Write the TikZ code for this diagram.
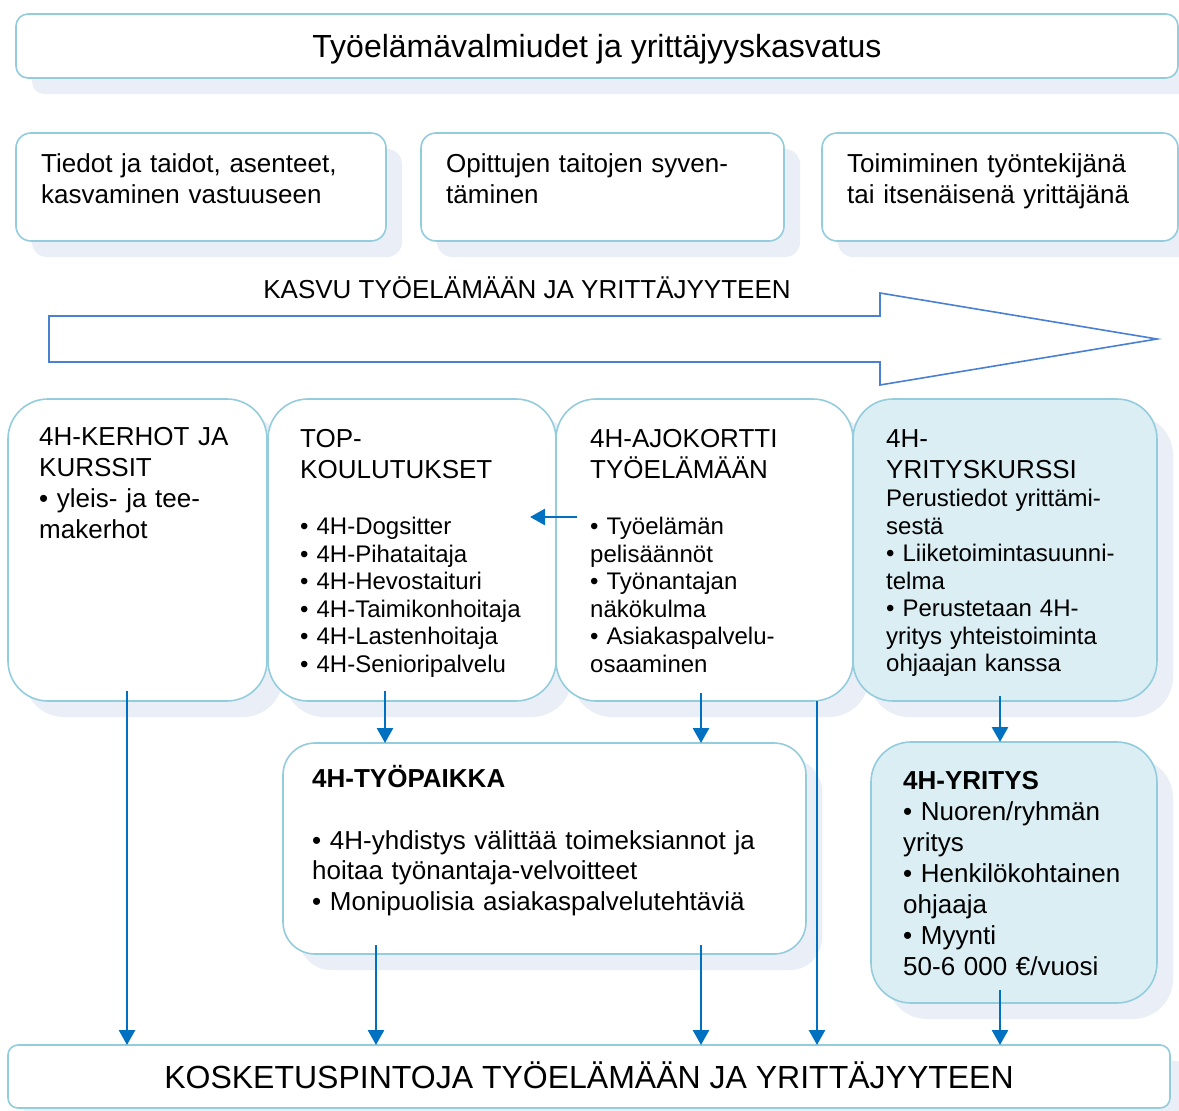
\documentclass[tikz,border=0pt]{standalone}
\usepackage{fontspec}
\setmainfont{Liberation Sans}
\usetikzlibrary{arrows.meta,calc}
\definecolor{bordc}{HTML}{93CDDD}
\definecolor{shadc}{HTML}{EAEFF7}
\definecolor{fillc}{HTML}{DAEEF3}
\definecolor{connc}{HTML}{0070C0}
\definecolor{bigc}{HTML}{4A80D2}
\tikzset{
  boxst/.style={draw=bordc, line width=1.6pt, inner sep=0pt, outer sep=0pt},
  conn/.style={connc, line width=2.6pt, -{Triangle[width=16pt,length=15pt]}},
  txa/.style={font=\fontsize{26}{31}\selectfont, inner sep=0pt, anchor=base west, align=left, text width=520pt},
  txb/.style={font=\fontsize{24}{27.5}\selectfont, inner sep=0pt, anchor=base west, align=left, text width=520pt},
  txc/.style={font=\fontsize{26}{30.5}\selectfont, inner sep=0pt, anchor=base west, align=left, text width=520pt},
  big/.style={font=\fontsize{32}{38}\selectfont, inner sep=0pt, anchor=base},
}
\newcommand\mkbox[7]{%
  \fill[shadc, rounded corners=#6] (#2+16,#3+16) rectangle (#4+16,#5+16);
  \node[boxst, rounded corners=#6, fill=#7, minimum width={(#4-#2)*1pt}, minimum height={(#5-#3)*1pt}, anchor=north west] (#1) at (#2,#3) {};
}
\begin{document}
\begin{tikzpicture}[x=1pt,y=-1pt]
\clip (0,0) rectangle (1179,1111);
\fill[white] (0,0) rectangle (1179,1111);

% boxes
\mkbox{titlebox}{16}{14}{1178}{78}{12pt}{white}
\mkbox{ra}{16}{133}{386}{241}{15pt}{white}
\mkbox{rb}{421}{133}{784}{241}{15pt}{white}
\mkbox{rc}{822}{133}{1178}{241}{15pt}{white}
\mkbox{kerhot}{8}{399}{267}{701}{40pt}{white}
\mkbox{topk}{268}{399}{556}{701}{40pt}{white}
\mkbox{ajok}{556}{399}{853}{701}{40pt}{white}
\mkbox{kurssi}{853}{399}{1157}{701}{40pt}{fillc}
\mkbox{tyopaikka}{283}{743}{806}{954}{32pt}{white}
\mkbox{yritys}{871}{742}{1157}{1003}{40pt}{fillc}
\mkbox{bottom}{8}{1045}{1170}{1108}{10pt}{white}

% big arrow
\draw[bigc, line width=1.6pt, line join=miter] (49,316) -- (880,316) -- (880,293) -- (1157,339) -- (880,385) -- (880,362) -- (49,362) -- cycle;

% texts
\node[big] (ttitle) at (597,57.5) {Työelämävalmiudet ja yrittäjyyskasvatus};
\node[txa] (tra) at (41,172) {Tiedot ja taidot, asenteet,\\kasvaminen vastuuseen};
\node[txa] (trb) at (446,172) {Opittujen taitojen syven-\\täminen};
\node[txa] (trc) at (847,172) {Toimiminen työntekijänä\\tai itsenäisenä yrittäjänä};
\node[font=\fontsize{26}{31}\selectfont, inner sep=0pt, anchor=base] (tkasvu) at (527,298) {KASVU TYÖELÄMÄÄN JA YRITTÄJYYTEEN};

\node[txa] (tkerhot) at (39,445) {4H-KERHOT JA\\KURSSIT\\• yleis- ja tee-\\makerhot};
\node[txa] (ttoph) at (300,447) {TOP-\\KOULUTUKSET};
\node[txb] (ttopb) at (300,534.5) {• 4H-Dogsitter\\• 4H-Pihataitaja\\• 4H-Hevostaituri\\• 4H-Taimikonhoitaja\\• 4H-Lastenhoitaja\\• 4H-Senioripalvelu};
\node[txa] (tajoh) at (590,447) {4H-AJOKORTTI\\TYÖELÄMÄÄN};
\node[txb] (tajob) at (590,534.5) {• Työelämän\\pelisäännöt\\• Työnantajan\\näkökulma\\• Asiakaspalvelu-\\osaaminen};
\node[txa] (tkurh) at (886,447) {4H-\\YRITYSKURSSI};
\node[txb] (tkurb) at (886,506.5) {Perustiedot yrittämi-\\sestä\\• Liiketoimintasuunni-\\telma\\• Perustetaan 4H-\\yritys yhteistoiminta\\ohjaajan kanssa};
\node[txa, font=\fontsize{26}{31}\selectfont\bfseries] (ttyoh) at (312,787) {4H-TYÖPAIKKA};
\node[txc] (ttyob) at (312,849) {• 4H-yhdistys välittää toimeksiannot ja\\hoitaa työnantaja-velvoitteet\\• Monipuolisia asiakaspalvelutehtäviä};
\node[txa] (tyrit) at (903,789) {\textbf{4H-YRITYS}\\• Nuoren/ryhmän\\yritys\\• Henkilökohtainen\\ohjaaja\\• Myynti\\50-6 000 €/vuosi};
\node[big] (tbottom) at (589,1088.5) {KOSKETUSPINTOJA TYÖELÄMÄÄN JA YRITTÄJYYTEEN};

% connectors
\draw[conn] ($(127,0 |- kerhot.south)+(0,-10)$) -- (127,0 |- bottom.north);
\draw[conn] ($(385,0 |- topk.south)+(0,-10)$) -- (385,0 |- tyopaikka.north);
\draw[conn] ($(701,0 |- ajok.south)+(0,-8)$) -- (701,0 |- tyopaikka.north);
\draw[conn] (817,0 |- ajok.south) -- (817,0 |- bottom.north);
\draw[conn] ($(1000,0 |- kurssi.south)+(0,-5)$) -- (1000,0 |- yritys.north);
\draw[conn] ($(376,0 |- tyopaikka.south)+(0,-9)$) -- (376,0 |- bottom.north);
\draw[conn] ($(701,0 |- tyopaikka.south)+(0,-9)$) -- (701,0 |- bottom.north);
\draw[conn] ($(1000,0 |- yritys.south)+(0,-13)$) -- (1000,0 |- bottom.north);
\coordinate (lfrom) at (577,517);
\coordinate (lto) at (530,517);
\draw[conn] (lfrom) -- (lto);
\end{tikzpicture}
\end{document}
